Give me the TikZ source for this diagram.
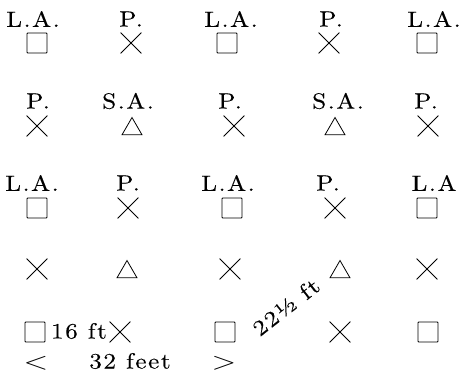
\documentclass[tikz,border=0pt]{standalone}
\usepackage{fontspec}
\usetikzlibrary{shapes.misc,shapes.geometric}
\newfontfamily\spfont{lmroman10-regular}[Extension=.otf, FakeStretch=1.15, FakeBold=0.2, LetterSpace=7]
\newcommand\lbf{\spfont\fontsize{22}{22}\selectfont}
\begin{document}
\begin{tikzpicture}[x=1pt,y=-1pt,
  lbl/.style={inner sep=0pt, font=\lbf},
  sq/.style={draw, rectangle, minimum size=20pt, inner sep=0pt, line width=0.9pt, rounded corners=0.8pt},
  crs/.style={draw, cross out, minimum size=20pt, inner sep=0pt, line width=0.8pt},
  tri/.style={draw, regular polygon, regular polygon sides=3, minimum size=23pt, inner sep=0pt, line width=0.8pt, yshift=-3pt},
  ang/.style={inner sep=0pt, font=\fontsize{38}{38}\selectfont}]
\useasboundingbox (0,0) rectangle (463,373);
% row 1
\node[lbl] (l11) at (33,19) {L.A.};
\node[lbl] (l12) at (131,19) {P.};
\node[lbl] (l13) at (231,19) {L.A.};
\node[lbl] (l14) at (331,19) {P.};
\node[lbl] (l15) at (434,19) {L.A.};
\node[sq]  (s11) at (37,43) {};
\node[crs] (s12) at (131,43) {};
\node[sq]  (s13) at (227,43) {};
\node[crs] (s14) at (329,43) {};
\node[sq]  (s15) at (427,43) {};
% row 2
\node[lbl] (l21) at (38,101) {P.};
\node[lbl] (l22) at (128,101) {S.A.};
\node[lbl] (l23) at (230,101) {P.};
\node[lbl] (l24) at (338,101) {S.A.};
\node[lbl] (l25) at (426,101) {P.};
\node[crs] (s21) at (37,126) {};
\node[tri] (s22) at (132,126) {};
\node[crs] (s23) at (234,126) {};
\node[tri] (s24) at (335,126) {};
\node[crs] (s25) at (428,126) {};
% row 3
\node[lbl] (l31) at (32,183) {L.A.};
\node[lbl] (l32) at (128,183) {P.};
\node[lbl] (l33) at (228,183) {L.A.};
\node[lbl] (l34) at (328,183) {P.};
\node[lbl] (l35) at (434,183) {L.A};
\node[sq]  (s31) at (37,208) {};
\node[crs] (s32) at (128,208) {};
\node[sq]  (s33) at (232,208) {};
\node[crs] (s34) at (335,208) {};
\node[sq]  (s35) at (427,208) {};
% row 4
\node[crs] (s41) at (37,269) {};
\node[tri] (s42) at (127,269) {};
\node[crs] (s43) at (230,269) {};
\node[tri] (s44) at (340,269) {};
\node[crs] (s45) at (427,269) {};
% row 5
\node[sq]  (s51) at (35,332) {};
\node[lbl] (t16) at (79,331) {16 ft};
\node[crs] (s52) at (120,332) {};
\node[sq]  (s53) at (225,332) {};
\node[lbl, rotate=38] (t22) at (286,307) {22½ ft};
\node[crs] (s54) at (340,332) {};
\node[sq]  (s55) at (428,332) {};
% bottom
\node[ang] (lt) at (36,363) {\scalebox{1.3}[1]{$<$}};
\node[lbl] (t32) at (130,361) {32\hspace{10pt}feet};
\node[ang] (gt) at (224,363) {\scalebox{1.3}[1]{$>$}};
\end{tikzpicture}
\end{document}
